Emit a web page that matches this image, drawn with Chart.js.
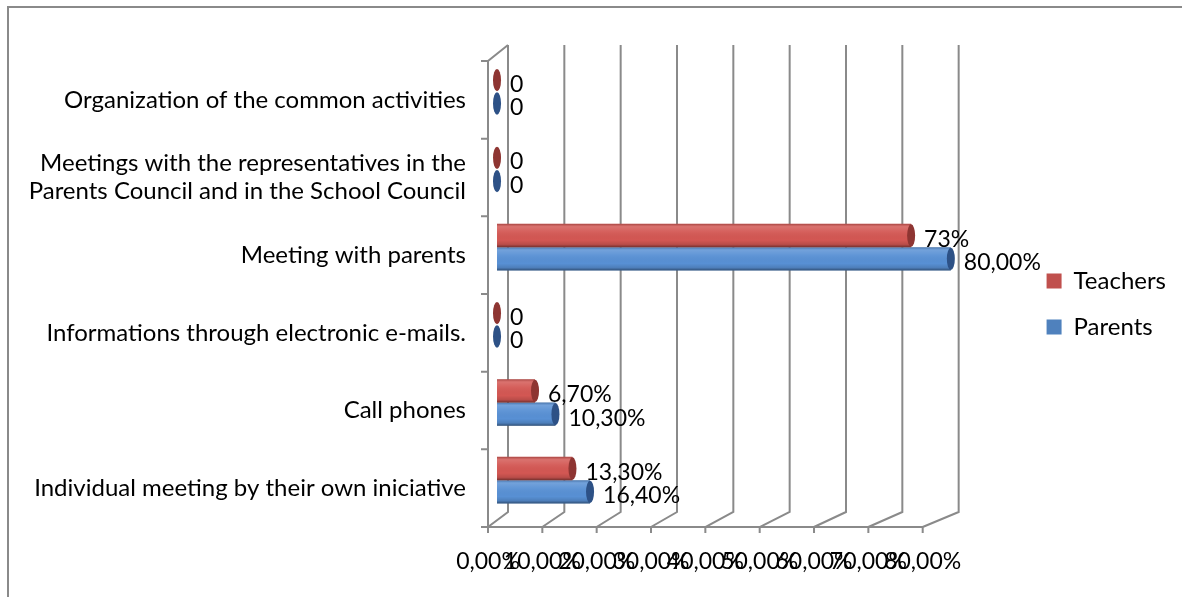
<!DOCTYPE html>
<html>
<head>
<meta charset="utf-8">
<title>Communication between school and parents</title>
<script src="https://cdn.jsdelivr.net/npm/chart.js@4.4.0/dist/chart.umd.min.js"></script>
<style>
  html, body { margin: 0; padding: 0; background: #fff; }
  canvas { display: block; }
</style>
</head>
<body>
<canvas id="chart" width="1182" height="597"></canvas>
<script>
// categories, top to bottom
const categories = [
    'Organization of the common activities',
    ['Meetings with the representatives in the', 'Parents Council and in the School Council'],
    'Meeting with parents',
    'Informations through electronic e-mails.',
    'Call phones',
    'Individual meeting by their own iniciative'
];
const teachers = [0, 0, 73, 0, 6.7, 13.3];
const parents = [0, 0, 80, 0, 10.3, 16.4];
const teacherLabels = ['0', '0', '73%', '0', '6,70%', '13,30%'];
const parentLabels = ['0', '0', '80,00%', '0', '10,30%', '16,40%'];
const xTicks = [0, 10, 20, 30, 40, 50, 60, 70, 80];

const FONT = 'Lato, "Noto Sans", sans-serif';
const GRID = '#8a8a8a';
const DEPTH = 8; // half depth of the 3-D box in px

// bars sit mid-depth, the floor edge is in front and the gridlines are on the back wall,
// so each plane gets its own value range over the same chart area
const BAR_RANGE = { min: -1.59, max: 93.0 };
const FRONT_RANGE = { min: 0, max: 98.75 };
const BACK_RANGE = { min: -3.55, max: 91.7 };

const pct = v => v.toFixed(2).replace('.', ',') + '%';

const barColors = ['#D35753', '#5890D4'];
const legendColors = ['#C0504D', '#4F81BD'];
const capColors = ['#8e3532', '#2d5186'];
const valueLabels = [teacherLabels, parentLabels];

const frame3d = {
    id: 'frame3d',
    afterLayout(chart) {
        // let the front tick labels hang below their axis box without being clipped
        chart.scales.xFront.bottom = chart.height;
    },
    beforeDraw(chart) {
        const ctx = chart.ctx;
        ctx.save();
        ctx.strokeStyle = GRID;
        ctx.lineWidth = 2;
        ctx.beginPath();
        ctx.moveTo(8, chart.height);
        ctx.lineTo(8, 7);
        ctx.lineTo(chart.width, 7);
        ctx.stroke();
        ctx.restore();
    },
    beforeDatasetsDraw(chart) {
        const { ctx, chartArea: a, scales } = chart;
        const front = scales.xFront, back = scales.xBack, y = scales.y;
        const fTop = a.top + DEPTH, fBot = a.bottom + DEPTH;
        const bTop = a.top - DEPTH, bBot = a.bottom - DEPTH + 1;
        const f0 = front.getPixelForValue(0), b0 = back.getPixelForValue(0);
        const fEnd = front.getPixelForValue(xTicks[xTicks.length - 1]);

        ctx.save();
        ctx.strokeStyle = GRID;
        ctx.lineWidth = 2;
        ctx.beginPath();
        // back wall gridlines, floor edges and front tick marks
        xTicks.forEach(v => {
            const fx = front.getPixelForValue(v), bx = back.getPixelForValue(v);
            ctx.moveTo(bx, bTop);
            ctx.lineTo(bx, bBot);
            ctx.lineTo(fx, fBot);
            ctx.lineTo(fx, fBot + 6);
        });
        // floor front edge + left wall
        ctx.moveTo(f0 - 7, fBot);
        ctx.lineTo(fEnd, fBot);
        ctx.moveTo(f0, fBot);
        ctx.lineTo(f0, fTop);
        ctx.lineTo(b0, bTop);
        // category separators on the left wall
        for (let i = 0; i < categories.length; i++) {
            const yy = (i === 0 ? a.top : (y.getPixelForValue(i - 1) + y.getPixelForValue(i)) / 2) + DEPTH;
            ctx.moveTo(f0 - 7, yy);
            ctx.lineTo(f0, yy);
        }
        ctx.stroke();
        ctx.restore();
    },
    afterDatasetsDraw(chart) {
        const ctx = chart.ctx;
        const bars = [];
        ctx.save();
        chart.data.datasets.forEach((ds, di) => {
            chart.getDatasetMeta(di).data.forEach((bar, i) => {
                const { x, y, base, height } = bar.getProps(['x', 'y', 'base', 'height'], true);
                const top = y - height / 2;
                if (x - base > 0.5) {
                    // cylinder shading
                    const g = ctx.createLinearGradient(0, top, 0, top + height);
                    g.addColorStop(0, 'rgba(0,0,0,0.2)');
                    g.addColorStop(0.12, 'rgba(255,255,255,0.16)');
                    g.addColorStop(0.35, 'rgba(255,255,255,0.05)');
                    g.addColorStop(0.7, 'rgba(0,0,0,0)');
                    g.addColorStop(0.88, 'rgba(0,0,0,0.12)');
                    g.addColorStop(1, 'rgba(0,0,0,0.45)');
                    ctx.fillStyle = g;
                    ctx.fillRect(base, top, x - base, height);
                }
                ctx.beginPath();
                ctx.ellipse(x, y, 4, height / 2 - 0.5, 0, 0, Math.PI * 2);
                ctx.fillStyle = capColors[di];
                ctx.fill();
                bars.push({ x, y, text: valueLabels[di][i] });
            });
        });
        ctx.fillStyle = '#000';
        ctx.font = '23px ' + FONT;
        ctx.textAlign = 'left';
        ctx.textBaseline = 'middle';
        bars.forEach(b => ctx.fillText(b.text, b.x + 13, b.y + 4));
        ctx.restore();
    }
};

new Chart(document.getElementById('chart'), {
    type: 'bar',
    data: {
        labels: categories,
        datasets: [
            { label: 'Teachers', data: teachers, backgroundColor: barColors[0], borderWidth: 0,
              categoryPercentage: 0.6, barPercentage: 1, xAxisID: 'x' },
            { label: 'Parents', data: parents, backgroundColor: barColors[1], borderWidth: 0,
              categoryPercentage: 0.6, barPercentage: 1, xAxisID: 'x' }
        ]
    },
    options: {
        indexAxis: 'y',
        responsive: false,
        animation: false,
        layout: { padding: { left: 0, top: 53, right: 6, bottom: 42 } },
        plugins: {
            legend: {
                position: 'right',
                labels: {
                    boxWidth: 15,
                    boxHeight: 15,
                    padding: 22,
                    color: '#000',
                    font: { family: FONT, size: 24 },
                    generateLabels: chart => Chart.defaults.plugins.legend.labels.generateLabels(chart)
                        .map((item, i) => Object.assign(item, { fillStyle: legendColors[i], lineWidth: 0 }))
                }
            },
            tooltip: { enabled: false }
        },
        scales: {
            x: { type: 'linear', ...BAR_RANGE, display: false },
            xBack: { type: 'linear', axis: 'x', position: 'bottom', ...BACK_RANGE, display: false },
            xFront: {
                type: 'linear',
                axis: 'x',
                position: 'bottom',
                ...FRONT_RANGE,
                grid: { display: false, drawTicks: false },
                border: { display: false },
                afterBuildTicks: s => { s.ticks = xTicks.map(v => ({ value: v })); },
                afterFit: s => { s.height = 36; },
                ticks: {
                    autoSkip: false,
                    maxRotation: 0,
                    minRotation: 0,
                    padding: 29,
                    color: '#000',
                    font: { family: FONT, size: 23 },
                    callback: v => pct(v)
                }
            },
            y: {
                grid: { display: false, drawTicks: false },
                border: { display: false },
                afterFit: s => { s.width = 488; },
                ticks: {
                    autoSkip: false,
                    padding: 22,
                    labelOffset: DEPTH,
                    color: '#000',
                    font: { family: FONT, size: 24, lineHeight: 1.17 }
                }
            }
        }
    },
    plugins: [frame3d]
});
</script>
</body>
</html>
